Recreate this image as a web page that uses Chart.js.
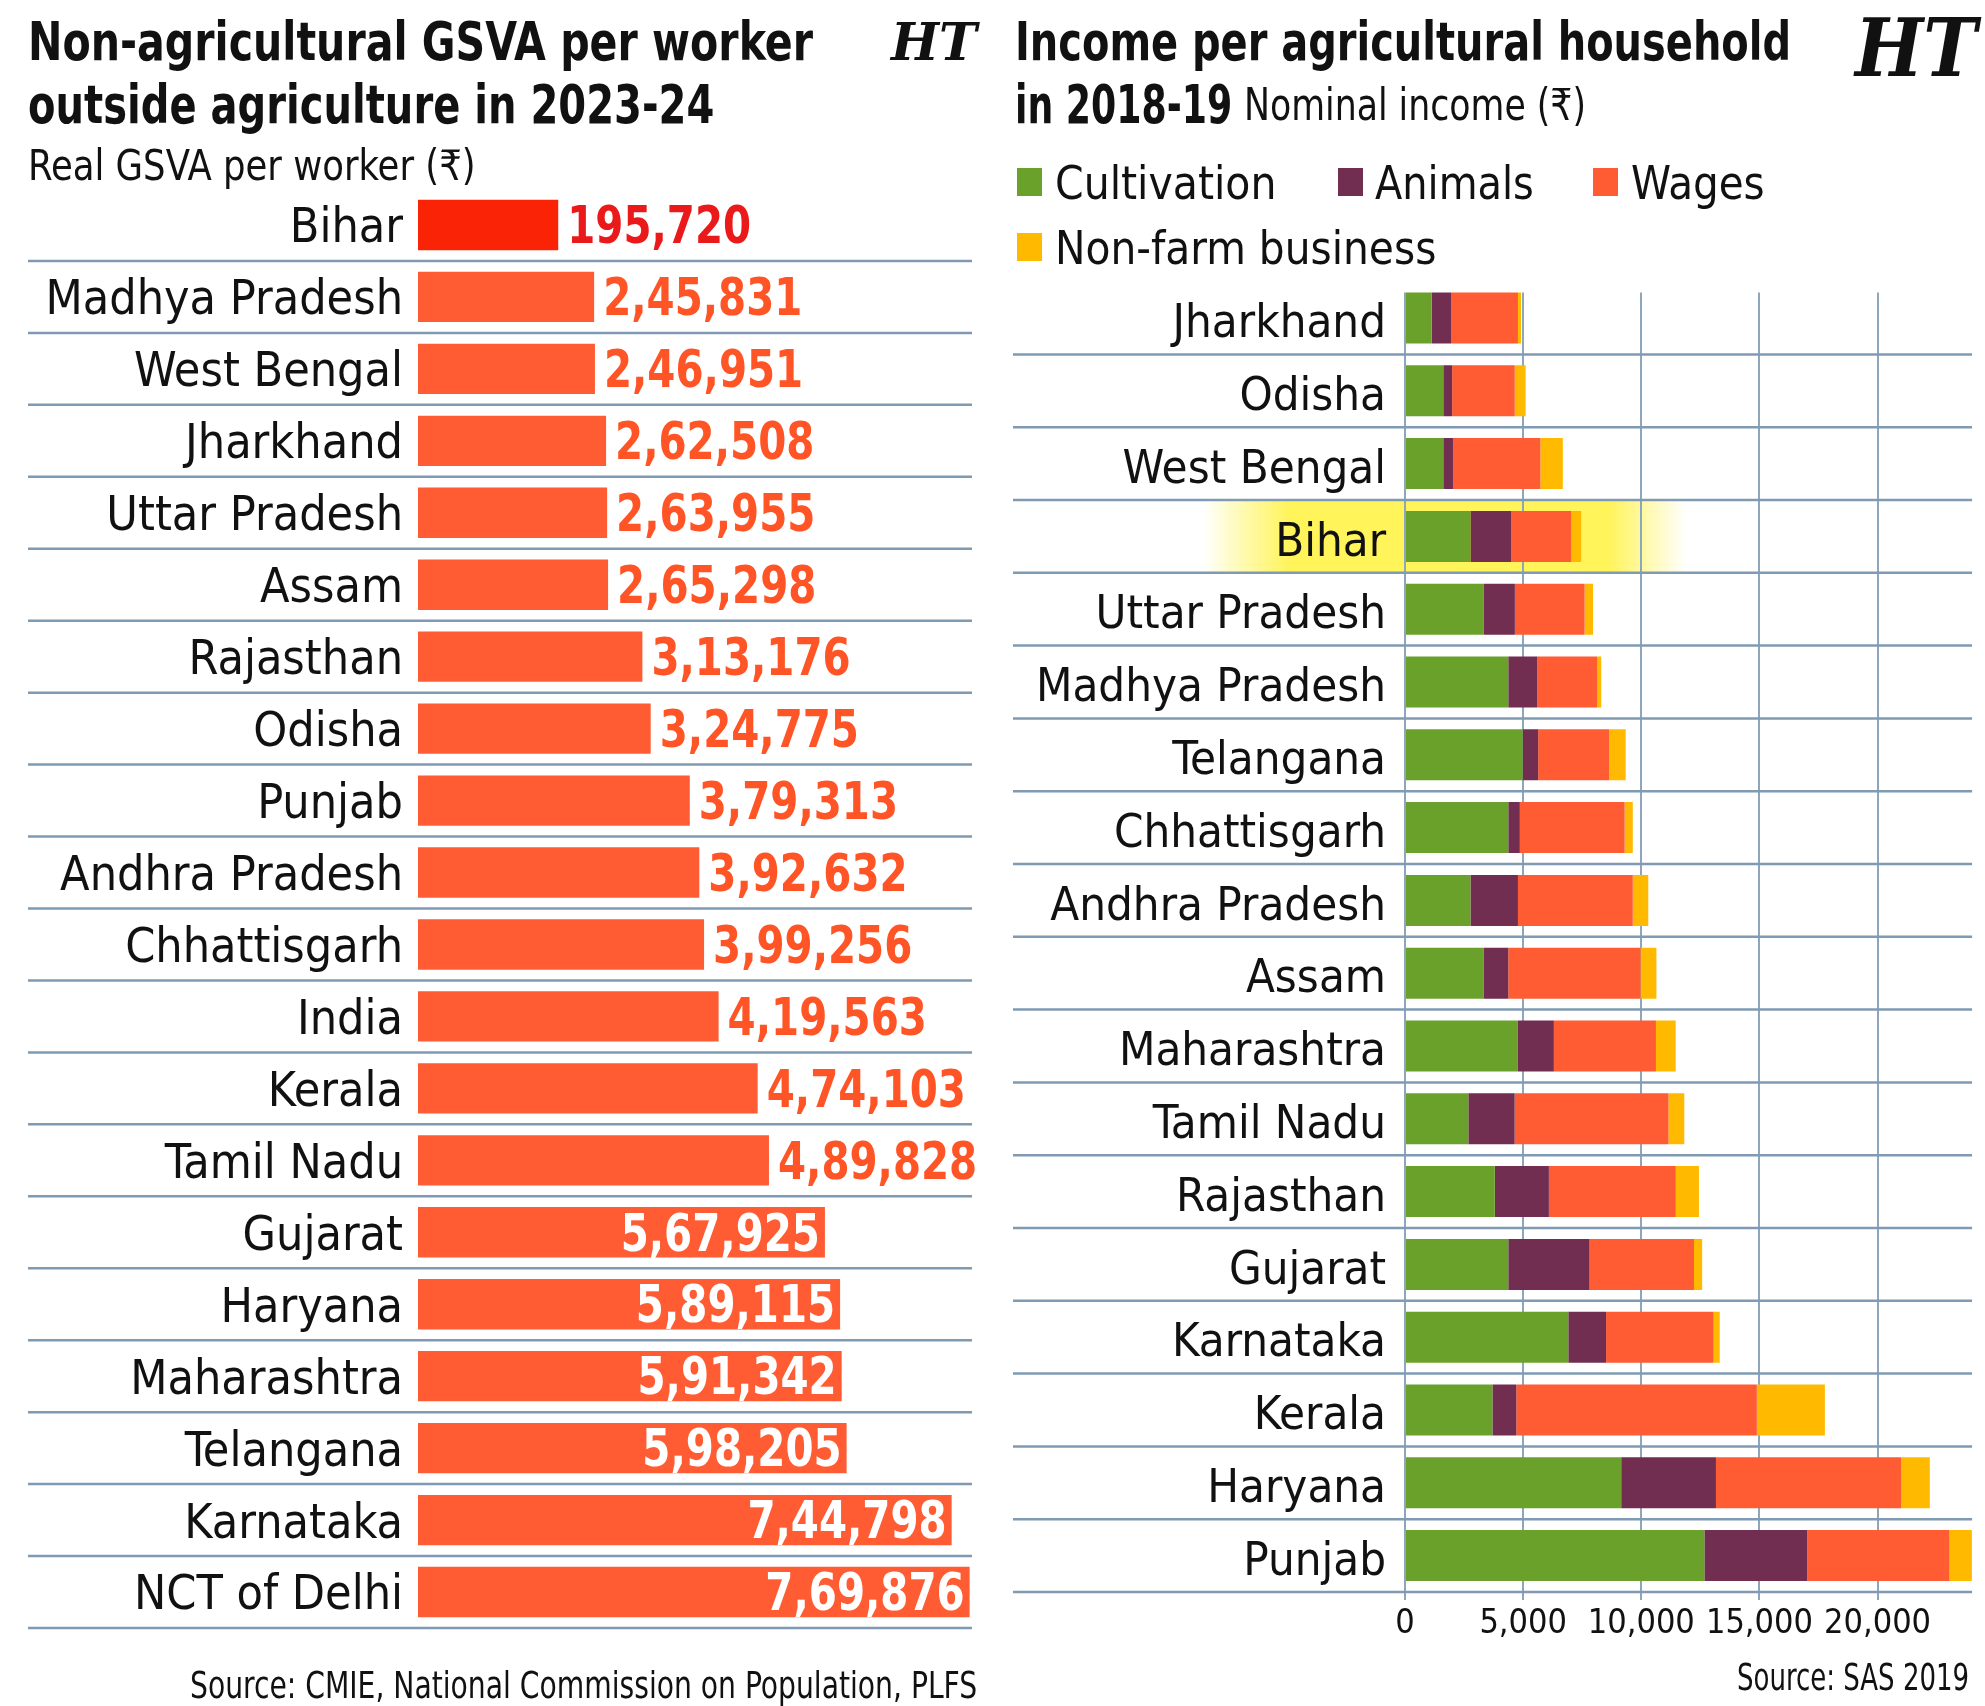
<!DOCTYPE html>
<html>
<head>
<meta charset="utf-8">
<title>Non-agricultural GSVA per worker / Income per agricultural household</title>
<script src="https://cdn.jsdelivr.net/npm/chart.js@4.4.1/dist/chart.umd.min.js"></script>
<style>
  body { margin: 0; background: #fff; }
  #page { position: relative; width: 1985px; height: 1706px; overflow: hidden; background: #fff; color: #111;
          font-family: "DejaVu Sans Condensed", "DejaVu Sans", sans-serif; font-stretch: condensed; }
  canvas { position: absolute; top: 0; }
  .t { position: absolute; white-space: nowrap; transform-origin: 0 50%; z-index: 2; }
  .b { font-weight: bold; }
  .logo { font-family: "DejaVu Serif", serif; font-weight: bold; font-style: italic; font-stretch: normal; }
  .sw { position: absolute; width: 25px; height: 28px; z-index: 2; }
</style>
</head>
<body>
<div id="page">
  <canvas id="gsvaChart" width="1000" height="1706" style="left:0"></canvas>
  <canvas id="incomeChart" width="985" height="1706" style="left:1000px"></canvas>

  <!-- left panel text -->
  <div class="t b" style="left:28px; top:12px; font-size:54px; line-height:60px" data-w="785">Non-agricultural GSVA per worker</div>
  <div class="t b" style="left:28px; top:75px; font-size:54px; line-height:60px" data-w="686">outside agriculture in 2023-24</div>
  <div class="t" style="left:28px; top:141px; font-size:42px; line-height:50px" data-w="448">Real GSVA per worker (₹)</div>
  <div class="t logo" style="left:891px; top:12px; font-size:52px; line-height:60px" data-w="86">HT</div>
  <div class="t" style="left:190px; top:1662px; font-size:38px; line-height:46px" data-w="787">Source: CMIE, National Commission on Population, PLFS</div>

  <!-- right panel text -->
  <div class="t b" style="left:1015px; top:12px; font-size:54px; line-height:60px" data-w="776">Income per agricultural household</div>
  <div class="t b" style="left:1015px; top:75px; font-size:54px; line-height:60px" data-w="217">in 2018-19</div>
  <div class="t" style="left:1244px; top:80px; font-size:44px; line-height:50px" data-w="342">Nominal income (₹)</div>
  <div class="t logo" style="left:1855px; top:6px; font-size:80px; line-height:84px" data-w="122">HT</div>
  <div class="t" style="left:1737px; top:1654px; font-size:38px; line-height:46px" data-w="232">Source: SAS 2019</div>

  <!-- legend -->
  <div class="sw" style="left:1017px; top:168px; background:#6aa12b"></div>
  <div class="t" style="left:1055px; top:156px; font-size:46px; line-height:54px" data-w="221">Cultivation</div>
  <div class="sw" style="left:1338px; top:168px; background:#722e51"></div>
  <div class="t" style="left:1375px; top:156px; font-size:46px; line-height:54px" data-w="159">Animals</div>
  <div class="sw" style="left:1593px; top:168px; background:#ff5c33"></div>
  <div class="t" style="left:1631px; top:156px; font-size:46px; line-height:54px" data-w="134">Wages</div>
  <div class="sw" style="left:1017px; top:233px; background:#ffba00"></div>
  <div class="t" style="left:1055px; top:221px; font-size:46px; line-height:54px" data-w="381">Non-farm business</div>
</div>

<script>
// ---- Left chart data: real GSVA per worker outside agriculture, 2023-24 ----
const gsvaStates = ['Bihar', 'Madhya Pradesh', 'West Bengal', 'Jharkhand', 'Uttar Pradesh', 'Assam',
  'Rajasthan', 'Odisha', 'Punjab', 'Andhra Pradesh', 'Chhattisgarh', 'India', 'Kerala', 'Tamil Nadu',
  'Gujarat', 'Haryana', 'Maharashtra', 'Telangana', 'Karnataka', 'NCT of Delhi'];
const gsvaValues = [195720, 245831, 246951, 262508, 263955, 265298, 313176, 324775, 379313, 392632,
  399256, 419563, 474103, 489828, 567925, 589115, 591342, 598205, 744798, 769876];
const gsvaLabels = ['195,720', '2,45,831', '2,46,951', '2,62,508', '2,63,955', '2,65,298', '3,13,176',
  '3,24,775', '3,79,313', '3,92,632', '3,99,256', '4,19,563', '4,74,103', '4,89,828', '5,67,925',
  '5,89,115', '5,91,342', '5,98,205', '7,44,798', '7,69,876'];

// ---- Right chart data: monthly income per agricultural household, 2018-19 ----
const incomeStates = ['Jharkhand', 'Odisha', 'West Bengal', 'Bihar', 'Uttar Pradesh', 'Madhya Pradesh',
  'Telangana', 'Chhattisgarh', 'Andhra Pradesh', 'Assam', 'Maharashtra', 'Tamil Nadu', 'Rajasthan',
  'Gujarat', 'Karnataka', 'Kerala', 'Haryana', 'Punjab'];
const cultivation = [1130, 1620, 1620, 2770, 3340, 4370, 4980, 4370, 2770, 3340, 4780, 2680, 3800, 4370, 6910, 3700, 9150, 12670];
const animals     = [835, 375, 410, 1720, 1310, 1230, 655, 490, 2010, 1030, 1520, 1960, 2290, 3440, 1600, 1010, 4010, 4350];
const wages       = [2815, 2650, 3700, 2540, 2950, 2540, 3000, 4435, 4860, 5600, 4320, 6510, 5370, 4420, 4550, 10180, 7840, 6020];
const nonFarm     = [130, 460, 950, 425, 360, 165, 705, 345, 655, 670, 835, 670, 980, 345, 260, 2880, 1210, 950];
const incomeTicks = [0, 5000, 10000, 15000, 20000];

const FONT = '"DejaVu Sans Condensed", "DejaVu Sans", sans-serif';
Chart.defaults.font.family = FONT;
Chart.defaults.color = '#111';

// Squeeze text horizontally so it takes the width it has in the reference
function fitText() {
  document.querySelectorAll('.t[data-w]').forEach(function(el) {
    const w = el.offsetWidth;
    if (w > 0) el.style.transform = 'scaleX(' + (el.dataset.w / w) + ')';
  });
}

// Thin separator lines between category rows (and one under the last row)
function rowLines(x1, x2) {
  return {
    id: 'rowLines',
    beforeDatasetsDraw(chart) {
      const y = chart.scales.y;
      const n = chart.data.labels.length;
      const ctx = chart.ctx;
      const area = chart.chartArea;
      const right = x2 === null ? area.right : x2;
      ctx.save();
      if (x2 === null) {
        // vertical grid starts at the top of the first bar, not at the row edge
        const firstTop = y.getPixelForValue(0) - chart.getDatasetMeta(0).data[0].height / 2;
        ctx.fillStyle = '#fff';
        ctx.fillRect(area.left - 3, area.top - 2, area.right - area.left + 6, firstTop - area.top + 2);
      }
      ctx.strokeStyle = '#7f9ab2';
      ctx.lineWidth = 2.5;
      ctx.beginPath();
      for (let i = 0; i < n; i++) {
        const yy = i < n - 1 ? (y.getPixelForValue(i) + y.getPixelForValue(i + 1)) / 2 : area.bottom;
        ctx.moveTo(x1, yy);
        ctx.lineTo(right, yy);
      }
      ctx.stroke();
      ctx.restore();
    }
  };
}

// Value labels for the left chart: coloured after the bar, white inside long bars
const gsvaValueLabels = {
  id: 'gsvaValueLabels',
  afterDatasetsDraw(chart) {
    const ctx = chart.ctx;
    const bars = chart.getDatasetMeta(0).data;
    ctx.save();
    ctx.font = 'bold 51px ' + FONT;
    ctx.textBaseline = 'middle';
    bars.forEach(function(bar, i) {
      const inside = gsvaValues[i] > 500000;
      ctx.save();
      if (inside) {
        ctx.translate(bar.x - 5, bar.y + 5);
        ctx.textAlign = 'right';
        ctx.fillStyle = '#ffffff';
      } else {
        ctx.translate(bar.x + 9, bar.y + 5);
        ctx.textAlign = 'left';
        ctx.fillStyle = i === 0 ? '#ea1a1a' : '#ff5526';
      }
      ctx.scale(0.88, 1);
      ctx.fillText(gsvaLabels[i], 0, 0);
      ctx.restore();
    });
    ctx.restore();
  }
};

// Yellow glow behind the Bihar row of the right chart
const biharGlow = {
  id: 'biharGlow',
  beforeDraw(chart) {
    const y = chart.scales.y;
    const idx = incomeStates.indexOf('Bihar');
    const half = Math.abs(y.getPixelForValue(1) - y.getPixelForValue(0)) / 2;
    const cy = y.getPixelForValue(idx);
    const ctx = chart.ctx;
    const x0 = 203, x1 = 686;
    const g = ctx.createLinearGradient(x0, 0, x1, 0);
    g.addColorStop(0, 'rgba(255,244,80,0)');
    g.addColorStop(0.18, 'rgba(255,244,90,1)');
    g.addColorStop(0.84, 'rgba(255,244,90,1)');
    g.addColorStop(1, 'rgba(255,244,90,0)');
    ctx.save();
    ctx.fillStyle = g;
    ctx.fillRect(x0, cy - half, x1 - x0, half * 2);
    ctx.restore();
  }
};

// ---- Left chart ----
new Chart(document.getElementById('gsvaChart'), {
  type: 'bar',
  data: {
    labels: gsvaStates,
    datasets: [{
      data: gsvaValues,
      backgroundColor: gsvaStates.map(s => s === 'Bihar' ? '#fa2306' : '#ff5c33'),
      barPercentage: 0.7,
      categoryPercentage: 1
    }]
  },
  options: {
    indexAxis: 'y',
    responsive: false,
    animation: false,
    layout: { padding: { top: 189, bottom: 78, left: 0, right: 8.8 } },
    plugins: { legend: { display: false }, tooltip: { enabled: false } },
    scales: {
      x: { display: false, min: 0, max: 800000 },
      y: {
        grid: { display: false, drawTicks: false },
        border: { display: false },
        ticks: { color: '#111', font: { size: 48 }, padding: 15, labelOffset: 5 },
        afterFit: function(scale) { scale.width = 418; }
      }
    }
  },
  plugins: [rowLines(28, 972), gsvaValueLabels]
});

// ---- Right chart ----
new Chart(document.getElementById('incomeChart'), {
  type: 'bar',
  data: {
    labels: incomeStates,
    datasets: [
      { label: 'Cultivation', data: cultivation, backgroundColor: '#6aa12b' },
      { label: 'Animals', data: animals, backgroundColor: '#722e51' },
      { label: 'Wages', data: wages, backgroundColor: '#ff5c33' },
      { label: 'Non-farm business', data: nonFarm, backgroundColor: '#ffba00' }
    ]
  },
  options: {
    indexAxis: 'y',
    responsive: false,
    animation: false,
    datasets: { bar: { barPercentage: 0.7, categoryPercentage: 1 } },
    layout: { padding: { top: 281.6, bottom: 54, left: 0, right: 12.9 } },
    plugins: { legend: { display: false }, tooltip: { enabled: false } },
    scales: {
      x: {
        stacked: true,
        min: 0,
        max: 24000,
        afterBuildTicks: function(scale) { scale.ticks = incomeTicks.map(v => ({ value: v })); },
        ticks: {
          color: '#111',
          font: { size: 34 },
          padding: 4,
          autoSkip: false,
          maxRotation: 0,
          callback: value => value.toLocaleString('en-US')
        },
        grid: { color: '#8ea6bc', lineWidth: 2, drawTicks: true, tickLength: 8 },
        border: { display: false },
        afterFit: function(scale) { scale.height = 60; }
      },
      y: {
        stacked: true,
        grid: { display: false, drawTicks: false },
        border: { display: false },
        ticks: { color: '#111', font: { size: 47 }, padding: 19, labelOffset: 7 },
        afterFit: function(scale) { scale.width = 405; }
      }
    }
  },
  plugins: [biharGlow, rowLines(13, null)]
});

fitText();
</script>
</body>
</html>
